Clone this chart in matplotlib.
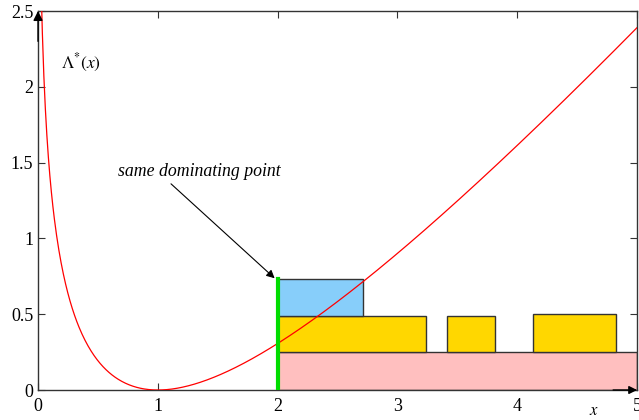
import numpy as np
import matplotlib
matplotlib.use("Agg")
import matplotlib.pyplot as plt
from matplotlib.patches import Rectangle

plt.rcParams['font.family'] = ['Liberation Serif', 'DejaVu Serif']
plt.rcParams['mathtext.fontset'] = 'stix'

# rate function Lambda*(x) = x - 1 - ln x
def rate(x):
    return x - 1 - np.log(x)

curve_x = np.linspace(0.005, 5, 800)

# rectangles: (x0, x1, y0, y1, colour)
rect_x0 = [2.0, 2.0, 3.41, 4.13, 2.0]
rect_x1 = [5.0, 3.24, 3.81, 4.82, 2.71]
rect_y0 = [0.0, 0.25, 0.25, 0.25, 0.49]
rect_y1 = [0.25, 0.49, 0.49, 0.50, 0.73]
rect_col = ['#ffbfbf', '#ffd700', '#ffd700', '#ffd700', '#87cefa']

fig = plt.figure(figsize=(6.39, 4.2), dpi=100)
ax = fig.add_axes([0.0595, 0.0714, 0.9375, 0.9024])

for x0, x1, y0, y1, c in zip(rect_x0, rect_x1, rect_y0, rect_y1, rect_col):
    ax.add_patch(Rectangle((x0, y0), x1 - x0, y1 - y0, facecolor=c,
                           edgecolor='#333333', linewidth=1.0, zorder=2))

ax.plot(curve_x, rate(curve_x), color='red', linewidth=0.9, zorder=3)
ax.plot([2, 2], [0, 0.73], color='#00dd00', linewidth=3, zorder=4)

ax.set_xlim(0, 5)
ax.set_ylim(0, 2.5)
ax.set_xticks([0, 1, 2, 3, 4, 5])
ax.set_xticklabels(['0', '1', '2', '3', '4', '5'])
ax.set_yticks([0, 0.5, 1, 1.5, 2, 2.5])
ax.set_yticklabels(['0', '0.5', '1', '1.5', '2', '2.5'])
ax.tick_params(direction='in', top=True, right=True, length=5, labelsize=13,
               width=0.8, color='#333333')
ax.tick_params(axis='x', pad=6)
for s in ax.spines.values():
    s.set_color('#333333')
    s.set_linewidth(1.0)

# axis arrows
ax.annotate('', xy=(0, 2.5), xytext=(0, 2.3),
            arrowprops=dict(arrowstyle='-|>', color='black', lw=1.0,
                            mutation_scale=14, shrinkA=0, shrinkB=0),
            annotation_clip=False)
ax.annotate('', xy=(5, 0), xytext=(4.8, 0),
            arrowprops=dict(arrowstyle='-|>', color='black', lw=1.0,
                            mutation_scale=12, shrinkA=0, shrinkB=0),
            annotation_clip=False)

ax.text(0.36, 2.16, r'$\mathit{\Lambda}^{*}(x)$', fontsize=12.5, ha='center', va='center')
ax.text(4.64, -0.14, r'$x$', fontsize=12, ha='center', va='center')

ax.text(1.35, 1.44, 'same dominating point', fontsize=12.8, style='italic',
        ha='center', va='center')
ax.annotate('', xy=(1.975, 0.737), xytext=(1.11, 1.36),
            arrowprops=dict(arrowstyle='-|>', color='black', lw=0.8,
                            shrinkA=0, shrinkB=0, mutation_scale=12))

fig.savefig('out.png', dpi=100)
